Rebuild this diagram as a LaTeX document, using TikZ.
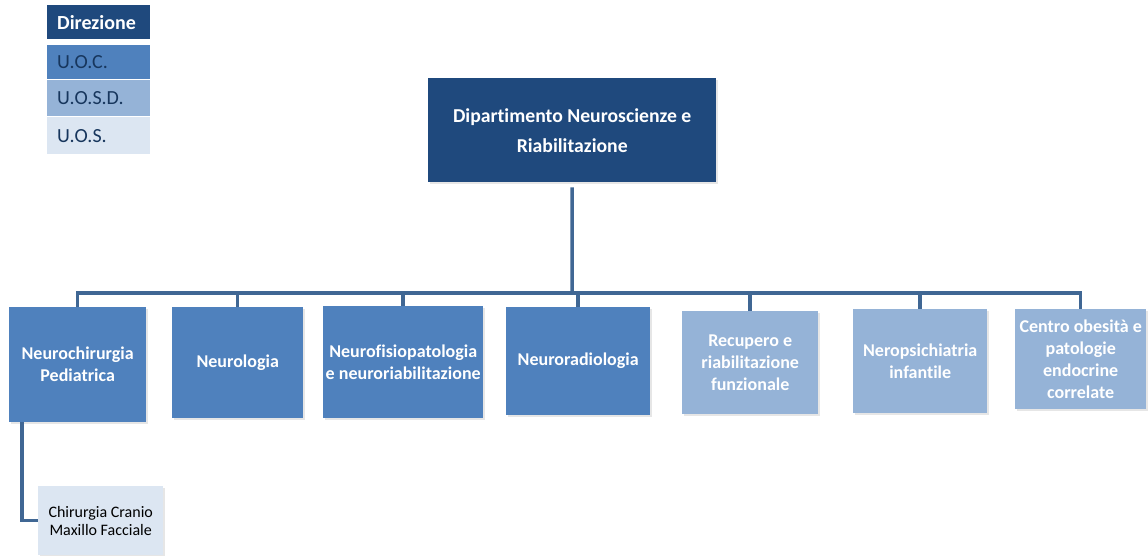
\documentclass[tikz,border=0pt]{standalone}
\usepackage{fontspec}
\setmainfont{Carlito}[Ligatures=NoCommon]
\usetikzlibrary{calc, positioning, shadows}

\definecolor{direz}{RGB}{31,73,125}
\definecolor{uoc}{RGB}{79,129,189}
\definecolor{uosd}{RGB}{149,179,215}
\definecolor{uos}{RGB}{220,230,242}
\definecolor{linea}{RGB}{64,103,148}
\definecolor{navytext}{RGB}{23,54,93}

\begin{document}
\begin{tikzpicture}[x=1pt, y=-1pt]
		\tikzstyle{unit} = [anchor=north west, inner sep=2pt, align=center, text=white,
			font=\bfseries\fontsize{18}{22}\selectfont,
			drop shadow={shadow xshift=1.5pt, shadow yshift=-1.5pt, opacity=0.2}]
		\tikzstyle{legend} = [anchor=north west, minimum width=103pt, text width=83pt,
			inner xsep=10pt, align=left, font=\fontsize{20}{22}\selectfont, text=navytext]
		\tikzstyle{conn} = [draw=linea, line width=3.5pt]

		\useasboundingbox (0,0) rectangle (1148,555);

		% legenda
		\node[legend, fill=direz, minimum height=34pt, text=white, font=\bfseries\fontsize{20}{22}\selectfont] (dir) at (47,5) {Direzione};
		\node[legend, fill=uoc, minimum height=34pt] (uoc) at (47,45) {U.O.C.};
		\node[legend, fill=uosd, minimum height=36pt] (uosd) at (47,80) {U.O.S.D.};
		\node[legend, fill=uos, minimum height=37pt] (uos) at (47,117) {U.O.S.};

		\node[unit, fill=direz, minimum width=288pt, minimum height=104pt, font=\bfseries\fontsize{19.7}{30}\selectfont] (dept) at (428,78) {Dipartimento Neuroscienze e\\Riabilitazione};
		\coordinate (bar) at (572,293);

		\node[unit, fill=uoc, minimum width=137pt, minimum height=115pt] (nch) at (9,307) {Neurochirurgia\\Pediatrica};
		\node[unit, fill=uoc, minimum width=131pt, minimum height=111pt] (neu) at (172,307) {Neurologia};
		\node[unit, fill=uoc, minimum width=160pt, minimum height=112pt] (nfr) at (323,306) {Neurofisiopatologia\\e neuroriabilitazione};
		\node[unit, fill=uoc, minimum width=144pt, minimum height=108pt] (nrd) at (506,307) {Neuroradiologia};
		\node[unit, fill=uosd, minimum width=136pt, minimum height=103pt] (rrf) at (682,311) {Recupero e\\riabilitazione\\funzionale};
		\node[unit, fill=uosd, minimum width=134pt, minimum height=104pt] (npi) at (853,309) {Neropsichiatria\\infantile};
		\node[unit, fill=uosd, minimum width=131pt, minimum height=100pt] (cop) at (1015,309) {Centro obesità e\\patologie\\endocrine\\correlate};

		\node[unit, fill=uos, minimum width=125pt, minimum height=69pt, text=black, font=\fontsize{16}{18}\selectfont] (ccmf) at (38,486) {Chirurgia Cranio\\Maxillo Facciale};

		\draw[conn] ([yshift=-5pt]dept.south) -- (bar);
		\foreach \n in {nch, neu, nfr, nrd, rrf, npi, cop}
			\draw[conn] (bar) -| (\n.north);
		\draw[conn] ([xshift=13pt]nch.south west) |- (ccmf.west);
	\end{tikzpicture}
\end{document}
